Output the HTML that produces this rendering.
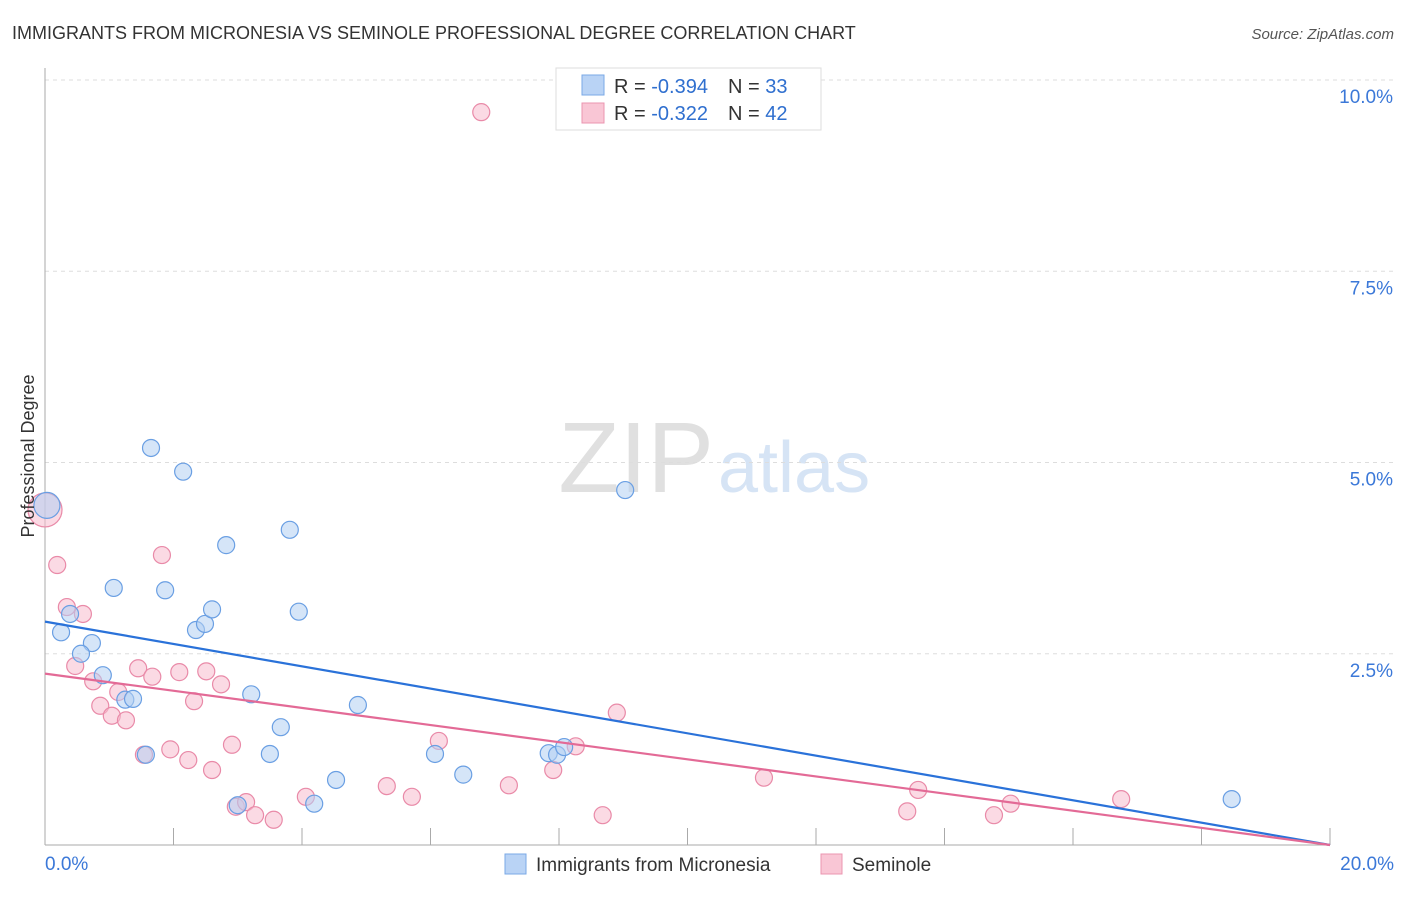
<!DOCTYPE html>
<html><head><meta charset="utf-8">
<style>
body{margin:0;background:#fff;font-family:"Liberation Sans",sans-serif;}
svg text{font-family:"Liberation Sans",sans-serif;}
</style></head>
<body>
<svg id="chart" width="1406" height="892">
<text x="12" y="39" font-size="18" fill="#333">IMMIGRANTS FROM MICRONESIA VS SEMINOLE PROFESSIONAL DEGREE CORRELATION CHART</text>
<text x="1394" y="39" font-size="15" fill="#555" font-style="italic" text-anchor="end">Source: ZipAtlas.com</text>
<text x="714" y="492" font-size="100" fill="#e0e0e0" text-anchor="end" font-family="Liberation Serif">ZIP</text>
<text x="718" y="492" font-size="72" fill="#d6e4f5">atlas</text>
<g id="grid"></g>
<g id="axes"></g>
<g id="marks"></g>
<text transform="translate(34,456) rotate(-90)" font-size="18" fill="#333" text-anchor="middle">Professional Degree</text>
<g>
<rect x="556" y="68" width="265" height="62" fill="#fff" stroke="#ddd"/>
<rect x="582" y="75" width="22" height="20" fill="#b9d3f5" stroke="#7aa8e6"/>
<text x="614" y="93" font-size="20" fill="#333">R = <tspan fill="#2f6fcf">-0.394</tspan><tspan dx="20">N = </tspan><tspan fill="#2f6fcf">33</tspan></text>
<rect x="582" y="103" width="22" height="20" fill="#f9c6d5" stroke="#eb95b0"/>
<text x="614" y="120" font-size="20" fill="#333">R = <tspan fill="#2f6fcf"> -0.322</tspan><tspan dx="20">N = </tspan><tspan fill="#2f6fcf">42</tspan></text>
</g>
<g>
<rect x="505" y="854" width="21" height="20" fill="#b9d3f5" stroke="#7aa8e6"/>
<text x="536" y="871" font-size="19" fill="#333">Immigrants from Micronesia</text>
<rect x="821" y="854" width="21" height="20" fill="#f9c6d5" stroke="#eb95b0"/>
<text x="852" y="871" font-size="19" fill="#333">Seminole</text>
</g>
</svg>
<script>
const blueX=[0.03,0.39,0.25,0.73,0.56,0.90,1.25,1.37,1.07,1.65,1.87,2.15,2.35,2.49,2.60,2.82,3.21,3.81,3.95,3.67,3.50,1.57,3.00,4.19,4.53,4.87,6.07,6.51,7.84,7.97,8.08,9.03,18.47];
const blueY=[4.44,3.02,2.78,2.64,2.50,2.22,1.90,1.91,3.36,5.19,3.33,4.88,2.81,2.89,3.08,3.92,1.97,4.12,3.05,1.54,1.19,1.18,0.52,0.54,0.85,1.83,1.19,0.92,1.20,1.18,1.28,4.64,0.60];
const pinkX=[0.0,0.19,0.34,0.59,0.47,0.75,0.86,1.04,1.14,1.26,1.45,1.54,1.67,1.82,1.95,2.09,2.23,2.32,2.51,2.60,2.74,2.91,2.97,3.13,3.27,3.56,4.06,5.32,5.71,6.13,6.79,7.22,7.91,8.26,8.68,8.90,11.19,13.42,13.59,14.77,15.03,16.75];
const pinkY=[4.38,3.66,3.11,3.02,2.34,2.14,1.82,1.69,2.00,1.63,2.31,1.18,2.20,3.79,1.25,2.26,1.11,1.88,2.27,0.98,2.10,1.31,0.50,0.56,0.39,0.33,0.63,0.77,0.63,1.36,9.58,0.78,0.98,1.29,0.39,1.73,0.88,0.44,0.72,0.39,0.54,0.60];
const blueTrend=[2.92,0];
const pinkTrend=[2.24,0];
const trendX=[0,20];
const yTicks=[2.5,5.0,7.5,10.0];
const xTickVals=[0,2,4,6,8,10,12,14,16,18,20];

const NS="http://www.w3.org/2000/svg";
const sx=v=>45+v*64.25;
const sy=v=>845-v*76.5;
function mk(tag,attrs,parent){const e=document.createElementNS(NS,tag);for(const k in attrs)e.setAttribute(k,attrs[k]);parent.appendChild(e);return e;}
const grid=document.getElementById('grid'),axes=document.getElementById('axes'),marks=document.getElementById('marks');
yTicks.forEach(v=>{
  const l=mk('line',{x1:45,x2:1394,y1:sy(v),y2:sy(v),stroke:'#ddd','stroke-dasharray':'4,4'},grid);
  
  
  const t=mk('text',{x:1393,y:sy(v)+23,'font-size':19,fill:'#3b78d8','text-anchor':'end'},axes);
  t.textContent=v.toFixed(1)+'%';
  
  
});
const ya=mk('line',{x1:45,x2:45,y1:68,y2:845,stroke:'#aaa'},axes);


const xa=mk('line',{x1:45,x2:1330,y1:845,y2:845,stroke:'#aaa'},axes);


xTickVals.forEach(v=>{
  const t=mk('line',{x1:sx(v),x2:sx(v),y1:828,y2:845,stroke:'#aaa'},axes);
  
  
});
[[0,'0.0%','start',45],[20,'20.0%','end',1394]].forEach(a=>{
  const t=mk('text',{x:a[3],y:870,'font-size':19,fill:'#3b78d8','text-anchor':a[2]},axes);
  t.textContent=a[1];
  
  
});
function pts(X,Y,fill,stroke,name){
  X.forEach((x,i)=>{
    const big=(i===0&&x<0.1);
    const c=mk('circle',{cx:sx(x),cy:sy(Y[i]),r:big?(name==='seminole-point'?17:13):8.5,fill:fill,'fill-opacity':0.55,stroke:stroke,'stroke-width':1.2},marks);
    
    
  });
}
pts(pinkX,pinkY,'#f7bccd','#e98aa8','seminole-point');
pts(blueX,blueY,'#b3cff2','#6a9fe3','micronesia-point');
const tb=mk('line',{x1:sx(trendX[0]),y1:sy(blueTrend[0]),x2:sx(trendX[1]),y2:sy(blueTrend[1]),stroke:'#2a72d9','stroke-width':2.2},marks);


const tp=mk('line',{x1:sx(trendX[0]),y1:sy(pinkTrend[0]),x2:sx(trendX[1]),y2:sy(pinkTrend[1]),stroke:'#e36a96','stroke-width':2.2},marks);


</script>
</body></html>
